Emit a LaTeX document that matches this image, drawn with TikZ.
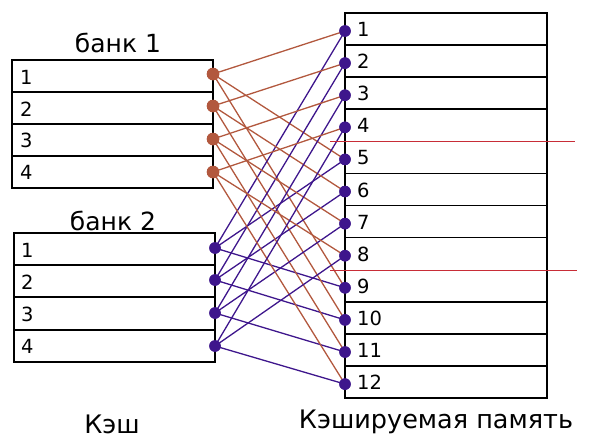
\documentclass[tikz,border=0pt]{standalone}
\usepackage{fontspec}
\setmainfont{DejaVu Sans}
\definecolor{brownc}{RGB}{178,88,62}
\definecolor{purpc}{RGB}{62,22,140}
\definecolor{redc}{RGB}{200,45,55}
\tikzset{
  box/.style={draw=black,line width=2pt},
  sep/.style={draw=black,line width=1.7pt},
  dig/.style={anchor=west,inner sep=0pt,font=\fontsize{19.5}{22}\selectfont},
  title/.style={anchor=base,inner sep=0pt,font=\fontsize{25}{28}\selectfont},
  bottom/.style={anchor=base,inner sep=0pt,font=\fontsize{25.5}{28}\selectfont},
  bdot/.style={circle,fill=brownc,inner sep=0pt,minimum size=12.5pt},
  pdot/.style={circle,fill=purpc,inner sep=0pt,minimum size=11.5pt},
  bline/.style={draw=brownc,line width=1.3pt},
  pline/.style={draw=purpc,line width=1.3pt},
  rline/.style={draw=redc,line width=1pt}
}
\begin{document}
\begin{tikzpicture}[x=1pt,y=-1pt]
\useasboundingbox (0,0) rectangle (595,440);
% bank 1
\node[title] (t1) at (118,52) {банк 1};
\draw[box] (12,60) rectangle (213,188);
\foreach \y in {92,124,156} \draw[sep] (12,\y) -- (213,\y);
\foreach \i/\y in {1/77,2/109,3/140,4/172} \node[dig] (a\i) at (20,\y) {\i};
% bank 2
\node[title] (t2) at (113,230) {банк 2};
\draw[box] (14,233) rectangle (215,362);
\foreach \y in {265,297,330} \draw[sep] (14,\y) -- (215,\y);
\foreach \i/\y in {1/250,2/282,3/314,4/346} \node[dig] (b\i) at (21,\y) {\i};
% memory
\draw[box] (345,13) rectangle (547,398);
\foreach \k in {1,2,3,5,6,7,9,10,11} \draw[sep] (345,{13+32.08*\k}) -- (547,{13+32.08*\k});
\foreach \k in {1,...,12} \node[dig] (m\k) at (357,{29.5+32.08*(\k-1)}) {\k};
% red lines
\coordinate (r1a) at (330,141);
\coordinate (r1b) at (575,141);
\coordinate (r2a) at (330,270);
\coordinate (r2b) at (577,270);
% dots
\foreach \i/\y in {1/74,2/106,3/139,4/172} \node[bdot] (c\i) at (213,\y) {};
\foreach \i/\y in {1/248,2/280,3/313,4/346} \node[pdot] (d\i) at (215,\y) {};
\foreach \k in {1,...,12} \node[pdot] (p\k) at (345,{31+32.1*(\k-1)}) {};
% connectors
\foreach \i in {1,...,4} {
  \pgfmathtruncatemacro{\ja}{\i+4}
  \pgfmathtruncatemacro{\jb}{\i+8}
  \draw[bline] (c\i.center) -- (p\i.center);
  \draw[bline] (c\i.center) -- (p\ja.center);
  \draw[bline] (c\i.center) -- (p\jb.center);
  \draw[pline] (d\i.center) -- (p\i.center);
  \draw[pline] (d\i.center) -- (p\ja.center);
  \draw[pline] (d\i.center) -- (p\jb.center);
}
\draw[rline] (r1a) -- (r1b);
\draw[rline] (r2a) -- (r2b);
% redraw dots on top
\foreach \i/\y in {1/74,2/106,3/139,4/172} \node[bdot] at (213,\y) {};
\foreach \i/\y in {1/248,2/280,3/313,4/346} \node[pdot] at (215,\y) {};
\foreach \k in {1,...,12} \node[pdot] at (345,{31+32.1*(\k-1)}) {};
% bottom labels
\node[bottom] (cache) at (112,433) {Кэш};
\node[bottom] (mem) at (436,428) {Кэшируемая память};
\end{tikzpicture}
\end{document}
